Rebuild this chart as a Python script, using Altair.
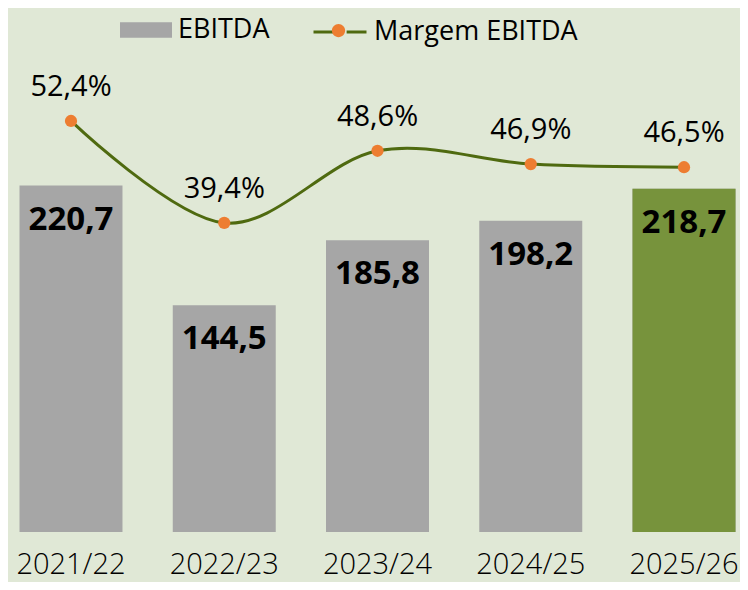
import altair as alt
import pandas as pd

years = ["2021/22", "2022/23", "2023/24", "2024/25", "2025/26"]
ebitda = [220.7, 144.5, 185.8, 198.2, 218.7]
margem = [52.4, 39.4, 48.6, 46.9, 46.5]
highlight = [False, False, False, False, True]

df = pd.DataFrame({
    "year": years,
    "ebitda": ebitda,
    "margem": margem,
    "ebitda_lbl": [f"{v:.1f}".replace(".", ",") for v in ebitda],
    "margem_lbl": [f"{v:.1f}%".replace(".", ",") for v in margem],
    "s1": "EBITDA",
    "s2": "Margem EBITDA",
    "hl": highlight,
})

FONT = "Open Sans"
GRAY = "#a6a6a6"
GREEN = "#77933c"
OLIVE = "#4f6a10"
ORANGE = "#ed7d31"

x = alt.X("year:N", sort=years,
          scale=alt.Scale(range=[0, 739], paddingInner=0.328, paddingOuter=0.075),
          axis=alt.Axis(title=None, labelAngle=0, domain=False, ticks=False,
                        labelFontSize=29, labelColor="black", labelFont=FONT,
                        labelFontWeight=300, labelBaseline="alphabetic",
                        labelPadding=41, grid=False))
y_bar = alt.Y("ebitda:Q", scale=alt.Scale(domain=[0, 333.8]), axis=None)
y_pct = alt.Y("margem:Q", scale=alt.Scale(domain=[0, 66.8]), axis=None)

base = alt.Chart(df)

LEG_Y = -4
LEG_FS = 27
bars = base.mark_bar().encode(
    x=x, y=y_bar,
    fill=alt.Fill("s1:N", scale=alt.Scale(range=[GRAY]),
                  legend=alt.Legend(title=None, orient="none", legendX=112, legendY=LEG_Y,
                                    symbolType="M-1,-0.3L1,-0.3L1,0.3L-1,0.3Z",
                                    symbolSize=2704, symbolStrokeWidth=0,
                                    labelFontSize=LEG_FS, labelFont=FONT, labelColor="black",
                                    labelOffset=6, labelLimit=0)),
)
bars_hl = base.transform_filter("datum.hl").mark_bar(color=GREEN).encode(x=x, y=y_bar)
bar_text = base.mark_text(fontWeight="bold", fontSize=33, dy=44, baseline="alphabetic",
                          font=FONT, color="black").encode(x=x, y=y_bar, text="ebitda_lbl:N")

line = base.mark_line(interpolate="cardinal", strokeWidth=3).encode(
    x=x, y=y_pct,
    stroke=alt.Stroke("s2:N", scale=alt.Scale(range=[OLIVE]),
                      legend=alt.Legend(title=None, orient="none", legendX=304, legendY=LEG_Y,
                                        symbolType="M-1,0L-0.25,0M0.25,0L1,0",
                                        symbolSize=2809, symbolStrokeWidth=3,
                                        labelFontSize=LEG_FS, labelFont=FONT, labelColor="black",
                                        labelOffset=6, labelLimit=0)),
)
points = base.mark_circle(size=150, opacity=1).encode(
    x=x, y=y_pct,
    color=alt.Color("s2:N", scale=alt.Scale(range=[ORANGE]),
                    legend=alt.Legend(title=None, orient="none", legendX=304, legendY=LEG_Y,
                                      symbolType="M0.25,0A0.25,0.25 0 1,1 -0.25,0A0.25,0.25 0 1,1 0.25,0Z",
                                      symbolSize=2809, symbolStrokeWidth=0,
                                      labelExpr="''", labelFontSize=LEG_FS, labelOffset=6)),
)
pct_text = base.mark_text(fontSize=29, dy=-25, baseline="alphabetic", font=FONT,
                          color="black").encode(x=x, y=y_pct, text="margem_lbl:N")

chart = alt.layer(bars, bars_hl, bar_text, line, points, pct_text).resolve_scale(
    y="independent"
).properties(
    width=732, height=524,
    autosize=alt.AutoSizeParams(type="none"),
    padding={"left": 0, "top": 0, "right": 0, "bottom": 50},
    background="#e0e8d6",
).configure_view(stroke=None)

chart.save("out.html", embed_options={"renderer": "svg", "actions": False})
